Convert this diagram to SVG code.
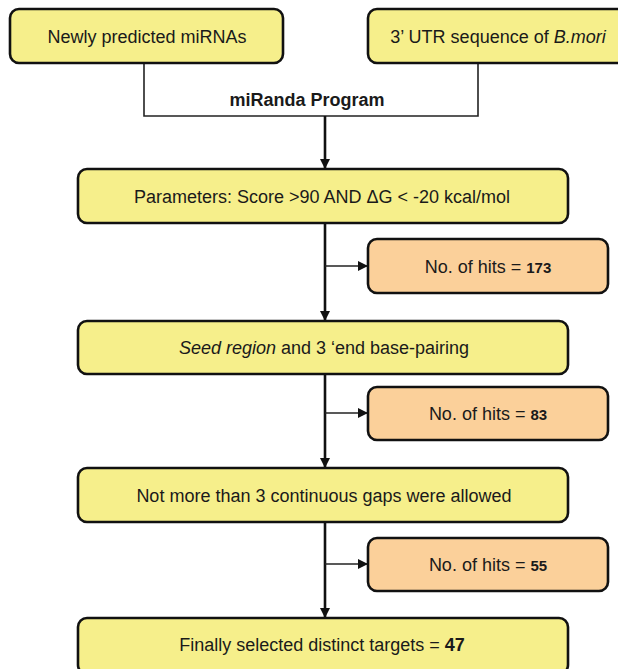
<svg xmlns="http://www.w3.org/2000/svg" width="618" height="669" viewBox="0 0 618 669">
  <style>
    .box { stroke: #111; stroke-width: 2.6; }
    .y { fill: #F6EF8B; }
    .o { fill: #FBD09A; }
    text { font-family: "Liberation Sans", Arial, sans-serif; font-size: 18px; fill: #1a1a1a; text-anchor: middle; }
    .b { font-weight: bold; }
    .i { font-style: italic; }
    .thin { stroke: #222; stroke-width: 1.6; fill: none; }
    .trunk { stroke: #111; stroke-width: 2.6; fill: none; }
    .branch { stroke: #222; stroke-width: 1.6; fill: none; }
  </style>
  <defs>
    <marker id="arr" markerUnits="userSpaceOnUse" markerWidth="10" markerHeight="10" refX="10" refY="5" orient="auto" viewBox="0 0 10 10">
      <path d="M0,0 L10,5 L0,10 z" fill="#111"/>
    </marker>
  </defs>
  <rect width="618" height="669" fill="#fff"/>

  <g id="connectors">
    <path class="thin" d="M144 63 V116 H478 V63"/>
    <path class="trunk" d="M325 116 V169" marker-end="url(#arr)"/>
    <path class="trunk" d="M325 223 V321" marker-end="url(#arr)"/>
    <path class="branch" d="M325 266 H368" marker-end="url(#arr)"/>
    <path class="trunk" d="M325 374 V468" marker-end="url(#arr)"/>
    <path class="branch" d="M325 413 H368" marker-end="url(#arr)"/>
    <path class="trunk" d="M325 522 V618" marker-end="url(#arr)"/>
    <path class="branch" d="M325 564 H368" marker-end="url(#arr)"/>
    <text class="b" x="307" y="106">miRanda Program</text>
  </g>

  <g id="n1">
    <rect class="box y" x="10" y="9" width="273" height="54" rx="9"/>
    <text x="147" y="43">Newly predicted miRNAs</text>
  </g>
  <g id="n2">
    <rect class="box y" x="368" y="9" width="262" height="54" rx="9"/>
    <text x="498" y="43">3’ UTR sequence of <tspan class="i">B.mori</tspan></text>
  </g>
  <g id="n3">
    <rect class="box y" x="78" y="169" width="490" height="54" rx="9"/>
    <text x="322" y="203">Parameters: Score &gt;90 AND ΔG &lt; -20 kcal/mol</text>
  </g>
  <g id="h1">
    <rect class="box o" x="368" y="239" width="240" height="54" rx="9"/>
    <text x="488" y="273">No. of hits = <tspan class="b" font-size="15">173</tspan></text>
  </g>
  <g id="n4">
    <rect class="box y" x="78" y="321" width="490" height="53" rx="9"/>
    <text x="324" y="354"><tspan class="i">Seed region</tspan> and 3 ‘end base-pairing</text>
  </g>
  <g id="h2">
    <rect class="box o" x="368" y="387" width="240" height="53" rx="9"/>
    <text x="488" y="420">No. of hits = <tspan class="b" font-size="15">83</tspan></text>
  </g>
  <g id="n5">
    <rect class="box y" x="78" y="468" width="490" height="54" rx="9"/>
    <text x="324" y="502">Not more than 3 continuous gaps were allowed</text>
  </g>
  <g id="h3">
    <rect class="box o" x="368" y="538" width="240" height="53" rx="9"/>
    <text x="488" y="571">No. of hits = <tspan class="b" font-size="15">55</tspan></text>
  </g>
  <g id="n6">
    <rect class="box y" x="78" y="618" width="490" height="56" rx="9"/>
    <text x="322" y="651">Finally selected distinct targets = <tspan class="b">47</tspan></text>
  </g>
</svg>
